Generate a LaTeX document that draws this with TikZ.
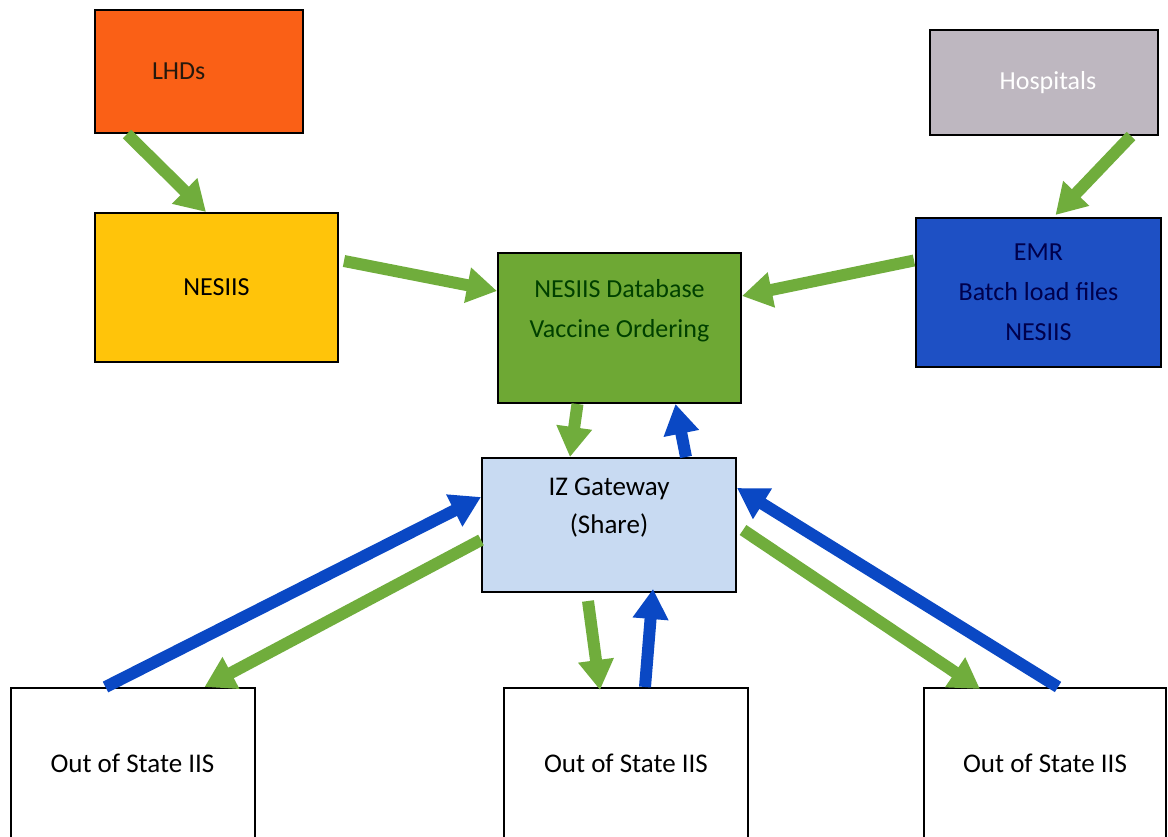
\documentclass[tikz,border=0pt]{standalone}
\usepackage{fontspec}
\setmainfont{Carlito}
\usetikzlibrary{arrows.meta}

\definecolor{lhdorange}{RGB}{250,96,22}
\definecolor{nesiisyellow}{RGB}{255,196,10}
\definecolor{dbgreen}{RGB}{110,168,52}
\definecolor{hospgray}{RGB}{190,183,192}
\definecolor{emrblue}{RGB}{30,80,196}
\definecolor{gwblue}{RGB}{200,218,242}
\definecolor{flowgreen}{RGB}{112,173,60}
\definecolor{flowblue}{RGB}{10,72,196}

\tikzstyle{box}=[draw=black,line width=2pt,inner sep=0pt,
    align=center,font=\fontsize{26}{40}\selectfont]
\tikzstyle{upper box}=[box,minimum width=243pt,minimum height=149pt]
\tikzstyle{iis box}=[box,fill=white,minimum width=244pt,minimum height=150pt,
    font=\fontsize{27}{40}\selectfont]
\tikzstyle{flow}=[line width=12pt,
    -{Triangle[length=30pt,width=34pt]}]
\tikzstyle{green flow}=[flow,color=flowgreen]
\tikzstyle{blue flow}=[flow,color=flowblue]
\newcommand{\greenflow}[2]{\draw[green flow] (#1) -- (#2);}
\newcommand{\blueflow}[2]{\draw[blue flow] (#1) -- (#2);}

\begin{document}
\begin{tikzpicture}[x=1pt,y=-1pt]
    \useasboundingbox (0,0) rectangle (1168,837);
    \fill[white] (0,0) rectangle (1168,837);
    \clip (0,0) rectangle (1168,837);
    %
    \node[box,fill=lhdorange,minimum width=208pt,minimum height=123pt,
        text width=94pt,align=left,
        text=black!80!brown] at (199,71.5) (lhd) {LHDs};
    \node[upper box,fill=nesiisyellow] at (216.5,287.5) (nesiis) {NESIIS};
    \node[upper box,fill=dbgreen,minimum height=150pt,
        text=black!75!green] at (619.5,328) (db)
        {NESIIS Database\\Vaccine Ordering\\\mbox{}};
    \node[box,fill=hospgray,minimum width=228pt,minimum height=105pt,
        text=white] at (1044,82.5) (hosp) {\hspace{8pt}Hospitals};
    \node[upper box,fill=emrblue,minimum width=245pt,
        text=black!70!blue] at (1038.5,292.5) (emr)
        {EMR\\Batch load files\\NESIIS};
    \node[box,fill=gwblue,minimum width=254pt,minimum height=134pt,
        font=\fontsize{27}{38}\selectfont] at (609,525) (gw)
        {IZ Gateway\\(Share)\\\mbox{}};
    %
    \node[iis box] at (132.5,763) (oosa) {Out of State IIS};
    \node[iis box] at (626,763) (oosb) {Out of State IIS};
    \node[iis box,minimum width=242pt] at (1045,763) (oosc) {Out of State IIS};
    %
    \greenflow{[xshift=33pt]lhd.south west}{[xshift=112pt]nesiis.north west}
    \greenflow{[xshift=5pt,yshift=-49pt]nesiis.north east}{[yshift=37pt]db.west}
    \greenflow{[xshift=-1pt,yshift=32pt]emr.west}{[yshift=32pt]db.east}
    \greenflow{[xshift=-28pt]hosp.south east}{[xshift=17pt,yshift=2pt]emr.north}
    %
    \greenflow{[xshift=-42pt]db.south}{[xshift=-39pt]gw.north}
    \blueflow{[xshift=77pt]gw.north}{[xshift=56pt]db.south}
    %
    \blueflow{[xshift=-27pt]oosa.north}{[yshift=28pt]gw.west}
    \greenflow{[yshift=-15pt]gw.west}{[xshift=72pt]oosa.north}
    \greenflow{[xshift=-21pt,yshift=-8pt]gw.south}{[xshift=-26pt,yshift=-3pt]oosb.north}
    \blueflow{[xshift=19pt]oosb.north}{[xshift=44pt,yshift=4pt]gw.south}
    \greenflow{[xshift=6pt,yshift=-5pt]gw.east}{[xshift=-65pt,yshift=-2pt]oosc.north}
    \blueflow{[xshift=13pt]oosc.north}{[yshift=37pt]gw.east}
\end{tikzpicture}
\end{document}
